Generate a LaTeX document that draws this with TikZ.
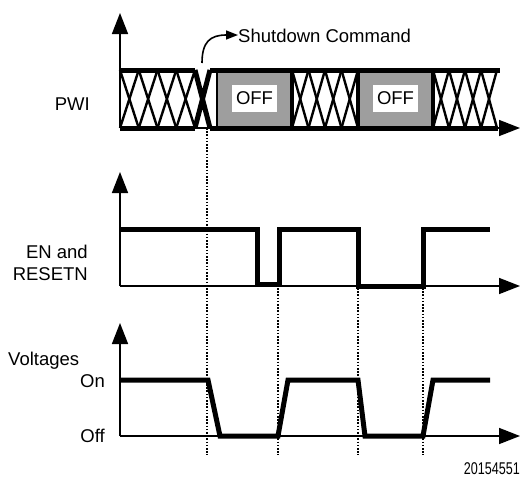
\documentclass[tikz,border=0pt]{standalone}
\usepackage{fontspec}
\setmainfont{Liberation Sans}
\usetikzlibrary{arrows.meta}
\tikzset{
  axis/.style={line width=1.6pt,-{Triangle[length=21pt,width=16pt]}},
  wave/.style={line width=5pt,line join=miter},
  bus/.style={line width=5pt},
  xline/.style={line width=2.4pt},
  guide/.style={line width=1.4pt,dash pattern=on 1.6pt off 1.6pt},
  lbl/.style={font=\fontsize{18.5}{22}\selectfont,inner sep=0pt},
  offbox/.style={lbl,fill=white,minimum width=45pt,minimum height=27pt},
}
% crossed bus segment between x=#1 and x=#2
\newcommand{\xblock}[2]{%
  \foreach \k in {0,...,3}{
    \draw[xline] ({#1+\k*(#2-#1)/4},70) -- ({#1+(\k+1)*(#2-#1)/4},128);
    \draw[xline] ({#1+\k*(#2-#1)/4},128) -- ({#1+(\k+1)*(#2-#1)/4},70);}}
\begin{document}
\begin{tikzpicture}[x=1pt,y=-1pt]
  \useasboundingbox (0,0) rectangle (523,477);
  % PWI
  \filldraw[fill=black!38,line width=1.2pt] (217,70) rectangle (292,128);
  \fill[black!38] (358,70) rectangle (433,128);
  \node[offbox] (off1) at (254.5,98.5) {OFF};
  \node[offbox] (off2) at (395.5,98.5) {OFF};
  \xblock{120}{195} \xblock{292}{358} \xblock{433}{497}
  \draw[bus] (120,70) -- (195,70) (210,70) -- (500,70);
  \draw[bus] (120,128) -- (195,128) (210,128) -- (498,128);
  \draw[bus] (195,70) -- (210,128) (195,128) -- (210,70);
  \draw[line width=3.5pt] (292,70) -- (292,128) (358,70) -- (358,128) (433,70) -- (433,128);
  \draw[axis] (120,128) -- (120,13);
  \draw[axis] (120,128) -- (520,128);
  \node[lbl,anchor=base east] (pwi) at (90,110) {PWI};
  \node[lbl,anchor=base west] (cmd) at (238,42) {Shutdown Command};
  \coordinate (cmdfoot) at (202,63);
  \draw[line width=1.6pt,-{Triangle[length=12pt,width=9pt]}] (cmdfoot) .. controls (202,42) and (210,35) .. (cmd.west |- 0,35);
  % EN and RESETN
  \draw[axis] (120,286) -- (120,172);
  \draw[axis] (120,286) -- (520,286);
  \draw[wave] (120,229) -- (257,229) -- (257,284) -- (279,284) -- (279,229) -- (358,229)
    -- (358,286) -- (423,286) -- (423,229) -- (490,229);
  \node[lbl,anchor=base east] (en) at (88,258) {EN and};
  \node[lbl,anchor=base east] (rst) at (88,280) {RESETN};
  % Voltages
  \draw[axis] (120,436) -- (120,323);
  \draw[axis] (120,436) -- (520,436);
  \draw[wave] (120,380) -- (208,380) -- (220,436) -- (278,436) -- (288,380) -- (358,380)
    -- (365,436) -- (423,436) -- (433,380) -- (490,380);
  \node[lbl,anchor=base west] (volt) at (8,365) {Voltages};
  \node[lbl,anchor=base east] (on) at (105,387) {On};
  \node[lbl,anchor=base east] (offl) at (105,442) {Off};
  % guides
  \draw[guide] (207,128) -- (207,455);
  \foreach \gx in {278,358,423}
    \draw[guide] (\gx,288) -- (\gx,455);
  \node[anchor=base east,inner sep=0pt,font=\fontsize{17}{20}\selectfont] (fig) at (520,474) {\scalebox{0.74}[1]{20154551}};
\end{tikzpicture}
\end{document}
